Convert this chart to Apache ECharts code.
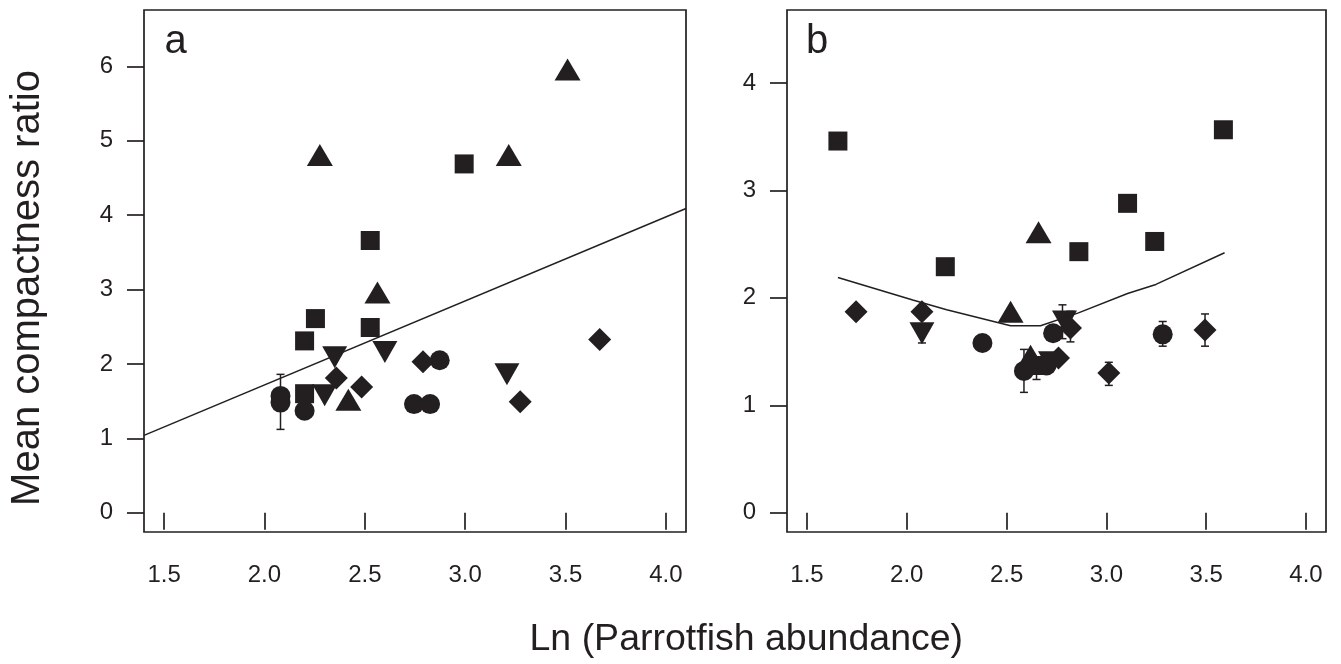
<!DOCTYPE html>
<html>
<head>
<meta charset="utf-8">
<script src="https://cdn.jsdelivr.net/npm/echarts@6/dist/echarts.min.js"></script>
<style>
html,body{margin:0;padding:0;background:#fff;}
#chart{width:1341px;height:664px;}
</style>
</head>
<body>
<div id="chart"></div>
<script>
// ---- data ----
const xTicks = [1.5, 2.0, 2.5, 3.0, 3.5, 4.0];
const yTicksA = [0, 1, 2, 3, 4, 5, 6];
const yTicksB = [0, 1, 2, 3, 4];

// Panel a
const aCircle = [[2.08,1.57],[2.08,1.48],[2.2,1.37],[2.745,1.46],[2.825,1.46],[2.873,2.05]];
const aSquare = [[2.2,1.6],[2.2,2.31],[2.254,2.61],[2.527,2.49],[2.527,3.66],[2.995,4.69]];
const aTriUp = [[2.276,4.81],[3.217,4.81],[3.51,5.96],[2.563,2.96],[2.418,1.52]];
const aTriDown = [[2.3,1.58],[2.35,2.09],[2.6,2.16],[3.208,1.86]];
const aDiamond = [[2.358,1.81],[2.484,1.69],[2.79,2.03],[3.274,1.49],[3.67,2.33]];
const aErr = [[2.08,1.12,1.86]];
const aFit = [[1.4,1.04],[4.1,4.09]];

// Panel b
const bCircle = [[2.379,1.58],[2.587,1.32],[2.70,1.37],[2.733,1.67],[3.282,1.66]];
const bSquare = [[1.655,3.46],[2.193,2.29],[2.862,2.43],[3.106,2.88],[3.242,2.525],[3.586,3.565],[2.66,1.37]];
const bTriUp = [[2.52,1.87],[2.66,2.61],[2.62,1.46]];
const bTriDown = [[2.076,1.67],[2.79,1.78],[2.72,1.40]];
const bDiamond = [[1.746,1.87],[2.076,1.87],[2.76,1.44],[2.82,1.72],[3.012,1.30],[3.494,1.70]];
const bErr = [[2.587,1.12,1.52],[2.65,1.24,1.40],[2.78,1.62,1.935],[2.82,1.59,1.875],[3.012,1.185,1.40],[3.282,1.55,1.78],[3.494,1.55,1.85],[2.076,1.58,1.76]];
const bFit = [[1.655,2.19],[2.03,1.98],[2.2,1.89],[2.52,1.74],[2.67,1.74],[2.86,1.86],[3.106,2.04],[3.248,2.125],[3.592,2.42]];

// ---- styling ----
const INK = '#231f20';
const FONT = '"Liberation Sans", Arial, Helvetica, sans-serif';

function xAxisCfg(gi){
  return {
    gridIndex: gi, type: 'value', min: 1.4, max: 4.1,
    axisLine: {show: false},
    axisTick: {show: true, inside: false, length: 17, customValues: xTicks, lineStyle: {color: INK, width: 1.7}},
    axisLabel: {show: true, customValues: xTicks, formatter: v => v.toFixed(1), margin: 31, fontSize: 24, color: INK, fontFamily: FONT},
    splitLine: {show: false}
  };
}
function yAxisCfg(gi, min, max, ticks){
  return {
    gridIndex: gi, type: 'value', min: min, max: max,
    axisLine: {show: false},
    axisTick: {show: true, inside: false, length: 17, customValues: ticks, lineStyle: {color: INK, width: 1.7}},
    axisLabel: {show: true, customValues: ticks, formatter: v => String(v), margin: 31, fontSize: 24, color: INK, fontFamily: FONT},
    splitLine: {show: false}
  };
}
function pts(gi, data, symbol, size, rotate){
  return {
    type: 'scatter', xAxisIndex: gi, yAxisIndex: gi, data: data,
    symbol: symbol, symbolSize: size, symbolRotate: rotate || 0,
    itemStyle: {color: INK, opacity: 1}, silent: true, z: 3
  };
}
function errs(gi, data){
  return {
    type: 'custom', xAxisIndex: gi, yAxisIndex: gi, data: data, silent: true, z: 2,
    renderItem: function(params, api){
      const x = api.value(0), lo = api.value(1), hi = api.value(2);
      const p1 = api.coord([x, lo]), p2 = api.coord([x, hi]);
      const st = {stroke: INK, lineWidth: 1.5};
      const c = 4;
      return {type: 'group', children: [
        {type: 'line', shape: {x1: p1[0], y1: p1[1], x2: p2[0], y2: p2[1]}, style: st},
        {type: 'line', shape: {x1: p1[0]-c, y1: p1[1], x2: p1[0]+c, y2: p1[1]}, style: st},
        {type: 'line', shape: {x1: p2[0]-c, y1: p2[1], x2: p2[0]+c, y2: p2[1]}, style: st}
      ]};
    }
  };
}
function fit(gi, data){
  return {
    type: 'line', xAxisIndex: gi, yAxisIndex: gi, data: data,
    showSymbol: false, symbol: 'none', smooth: false, silent: true, z: 4,
    lineStyle: {color: INK, width: 1.5}
  };
}

const SZ = {circle: 20, rect: 19, tri: [26, 22], tdown: [25, 22], diamond: [23, 23]};

const option = {
  animation: false,
  backgroundColor: '#ffffff',
  grid: [
    {left: 144, top: 10, width: 542, height: 522, show: true, borderColor: INK, borderWidth: 1.7, backgroundColor: 'transparent'},
    {left: 787, top: 10, width: 539, height: 522, show: true, borderColor: INK, borderWidth: 1.7, backgroundColor: 'transparent'}
  ],
  xAxis: [xAxisCfg(0), xAxisCfg(1)],
  yAxis: [yAxisCfg(0, -0.26, 6.76, yTicksA), yAxisCfg(1, -0.18, 4.68, yTicksB)],
  series: [
    errs(0, aErr),
    pts(0, aCircle, 'circle', SZ.circle),
    pts(0, aSquare, 'rect', SZ.rect),
    pts(0, aTriUp, 'triangle', SZ.tri),
    pts(0, aTriDown, 'triangle', SZ.tdown, 180),
    pts(0, aDiamond, 'diamond', SZ.diamond),
    fit(0, aFit),
    errs(1, bErr),
    pts(1, bCircle, 'circle', SZ.circle),
    pts(1, bSquare, 'rect', SZ.rect),
    pts(1, bTriUp, 'triangle', SZ.tri),
    pts(1, bTriDown, 'triangle', SZ.tdown, 180),
    pts(1, bDiamond, 'diamond', SZ.diamond),
    fit(1, bFit)
  ],
  graphic: [
    {type: 'text', left: 164.5, top: 22, style: {text: 'a', fontSize: 40, fontFamily: FONT, fill: INK}},
    {type: 'text', left: 806, top: 22, style: {text: 'b', fontSize: 40, fontFamily: FONT, fill: INK}},
    {type: 'text', x: 529.5, y: 640, style: {text: 'Ln (Parrotfish abundance)', fontSize: 37.5, fontFamily: FONT, fill: INK, align: 'left', verticalAlign: 'middle'}},
    {type: 'text', x: 28, y: 288, rotation: Math.PI / 2, style: {text: 'Mean compactness ratio', fontSize: 40, fontFamily: FONT, fill: INK, align: 'center', verticalAlign: 'middle'}}
  ]
};

const chart = echarts.init(document.getElementById('chart'), null, {renderer: 'canvas'});
chart.setOption(option);
</script>
</body>
</html>
